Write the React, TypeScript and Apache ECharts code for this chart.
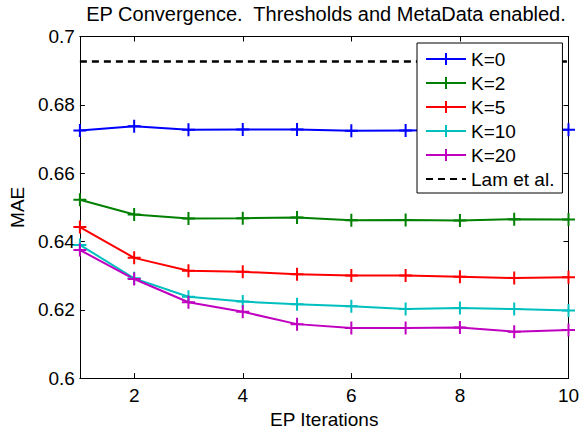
import React, { useEffect, useRef } from "react";
import * as echarts from "echarts";

const iterations = [1, 2, 3, 4, 5, 6, 7, 8, 9, 10];
const seriesNames = ["K=0", "K=2", "K=5", "K=10", "K=20"];
const k0 = [0.6725, 0.6737, 0.6727, 0.6728, 0.6728, 0.6724, 0.6725, 0.6726, 0.6727, 0.6727];
const k2 = [0.6522, 0.6479, 0.6467, 0.6468, 0.647, 0.6462, 0.6463, 0.6461, 0.6465, 0.6464];
const k5 = [0.6442, 0.6352, 0.6314, 0.6311, 0.6304, 0.63, 0.63, 0.6297, 0.6293, 0.6295];
const k10 = [0.639, 0.6292, 0.6238, 0.6224, 0.6216, 0.621, 0.6202, 0.6205, 0.6202, 0.6198];
const k20 = [0.6375, 0.629, 0.6222, 0.6194, 0.6158, 0.6147, 0.6147, 0.6148, 0.6136, 0.6141];
const lamName = "Lam et al.";
const lamValue = 0.6927;
const xTicks = [2, 4, 6, 8, 10];
const titleText = "EP Convergence.  Thresholds and MetaData enabled.";

const colors = ["#0000ff", "#008000", "#ff0000", "#00bfbf", "#bf00bf"];
const FONT = "'Liberation Sans', Arial, Helvetica, sans-serif";
const PLUS = "path://M5,0V10M0,5H10";

export default function App() {
  const ref = useRef<HTMLDivElement>(null);
  useEffect(() => {
    if (!ref.current) return;
    const chart = echarts.init(ref.current, undefined, { renderer: "svg" });
    const values = [k0, k2, k5, k10, k20];
    const lineSeries = values.map((vals, i) => ({
      name: seriesNames[i],
      type: "line",
      xAxisIndex: 0,
      yAxisIndex: 0,
      data: iterations.map((x, j) => [x, vals[j]]),
      symbol: PLUS,
      symbolSize: 13,
      showSymbol: true,
      color: colors[i],
      lineStyle: { color: colors[i], width: 2 },
      itemStyle: { color: colors[i], borderColor: colors[i], borderWidth: 2 },
      z: 3,
    }));
    const lamSeries = {
      name: lamName,
      type: "line",
      xAxisIndex: 0,
      yAxisIndex: 0,
      data: [
        [iterations[0], lamValue],
        [iterations[iterations.length - 1], lamValue],
      ],
      symbol: "rect",
      symbolSize: 1,
      showSymbol: false,
      color: "#000",
      lineStyle: { color: "#000", width: 2.5, type: [7, 5] },
      itemStyle: { color: "#000", opacity: 0, borderWidth: 0 },
      z: 2,
    };
    const axisCommon = {
      axisLine: { show: true, lineStyle: { color: "#000", width: 1 } },
      splitLine: { show: false },
    };
    const option: any = {
      animation: false,
      backgroundColor: "#fff",
      textStyle: { fontFamily: FONT },
      grid: { left: 79.5, right: 16.5, top: 36.5, bottom: 45, containLabel: false },
      graphic: [
        {
          type: "text",
          x: 326,
          y: 14,
          style: {
            text: titleText,
            fontFamily: FONT,
            fontSize: 20,
            fill: "#000",
            align: "center",
            verticalAlign: "middle",
          },
        },
      ],
      xAxis: [
        {
          ...axisCommon,
          type: "value",
          position: "bottom",
          min: 1,
          max: 10,
          name: "EP Iterations",
          nameLocation: "middle",
          nameGap: 29.5,
          nameTextStyle: { fontSize: 19, color: "#000", fontFamily: FONT },
          axisTick: { show: true, inside: true, length: 5, customValues: xTicks, lineStyle: { color: "#000" } },
          axisLabel: { show: true, customValues: xTicks, margin: 8, fontSize: 19, color: "#000", fontFamily: FONT },
        },
        {
          ...axisCommon,
          type: "value",
          position: "top",
          min: 1,
          max: 10,
          axisTick: { show: true, inside: true, length: 5, customValues: xTicks, lineStyle: { color: "#000" } },
          axisLabel: { show: false },
        },
      ],
      yAxis: [
        {
          ...axisCommon,
          type: "value",
          position: "left",
          min: 0.6,
          max: 0.7,
          interval: 0.02,
          name: "MAE",
          nameLocation: "middle",
          nameRotate: 90,
          nameGap: 49,
          nameTextStyle: { fontSize: 19, color: "#000", fontFamily: FONT },
          axisTick: { show: true, inside: true, length: 5, lineStyle: { color: "#000" } },
          axisLabel: {
            show: true,
            margin: 5,
            fontSize: 19,
            color: "#000",
            fontFamily: FONT,
            formatter: (v: number) => String(+v.toFixed(2)),
          },
        },
        {
          ...axisCommon,
          type: "value",
          position: "right",
          min: 0.6,
          max: 0.7,
          interval: 0.02,
          axisTick: { show: true, inside: true, length: 5, lineStyle: { color: "#000" } },
          axisLabel: { show: false },
        },
      ],
      legend: {
        orient: "vertical",
        left: 417,
        top: 43,
        padding: [6, 8, 4, 8],
        itemWidth: 40,
        itemHeight: 15,
        itemGap: 4,
        backgroundColor: "#fff",
        borderColor: "#000",
        borderWidth: 1,
        borderRadius: 0,
        selectedMode: false,
        textStyle: { fontSize: 19, lineHeight: 20, color: "#000", fontFamily: FONT },
        data: [...seriesNames, lamName],
        z: 10,
      },
      series: [...lineSeries, lamSeries],
    };
    chart.setOption(option);
    return () => chart.dispose();
  }, []);
  return (
    <div
      ref={ref}
      style={{ position: "fixed", left: 0, top: 0, width: 585, height: 434 }}
    />
  );
}
